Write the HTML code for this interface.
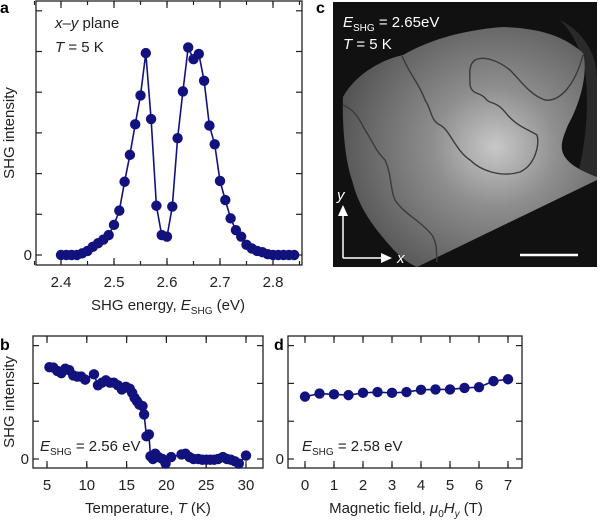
<!DOCTYPE html>
<html><head><meta charset="utf-8">
<style>
html,body{margin:0;padding:0;background:#fff;}
svg{display:block;font-family:"Liberation Sans",Arial,sans-serif;}
</style></head>
<body>
<svg id="fig" width="600" height="523" viewBox="0 0 600 523" xmlns="http://www.w3.org/2000/svg">
<defs>
<radialGradient id="blobg" cx="0.6" cy="0.5" r="0.62">
<stop offset="0" stop-color="#c8c8c8"/>
<stop offset="0.4" stop-color="#8e8e8e"/>
<stop offset="1" stop-color="#555"/>
</radialGradient>
</defs>
<g id="root"></g>
</svg>
<script>
// Panel a data
const aEnergy = [2.40,2.41,2.42,2.43,2.44,2.45,2.46,2.47,2.48,2.49,2.50,2.51,2.52,2.53,2.54,2.55,2.56,2.57,2.58,2.59,2.60,2.61,2.62,2.63,2.64,2.65,2.66,2.67,2.68,2.69,2.70,2.71,2.72,2.73,2.74,2.75,2.76,2.77,2.78,2.79,2.80,2.81,2.82,2.83,2.84];
const aIntensity = [0,0,0,0,0.04,0.1,0.2,0.29,0.38,0.49,0.74,1.09,1.8,2.46,3.21,3.92,4.96,3.34,1.21,0.49,0.45,1.19,2.87,4.02,5.1,4.81,4.94,4.28,3.18,2.72,1.82,1.35,0.9,0.61,0.45,0.25,0.16,0.1,0.07,0.02,0,0,0,0,0];
const aXTicks = [2.4,2.5,2.6,2.7,2.8];
// Panel b data
const bTemp = [5.3,5.8,6.3,6.8,7.3,7.8,8.3,8.8,9.3,9.8,10.9,11.4,11.9,12.4,12.9,13.4,13.9,14.4,14.9,15.4,15.7,16.0,16.3,16.6,17.0,17.2,17.5,17.8,18.0,18.3,18.6,19.0,19.5,19.9,20.6,21.9,22.4,22.9,23.4,24.0,24.5,25.0,25.5,26.0,26.5,27.1,27.6,28.1,28.6,29.1,30.0];
const bIntensity = [2.43,2.42,2.33,2.27,2.39,2.35,2.21,2.18,2.18,2.1,2.24,1.95,2.02,2.08,2.02,2.02,1.95,1.84,1.91,1.86,1.75,1.62,1.53,1.44,1.4,1.18,0.6,0.65,0.07,0,0.14,0.05,0,-0.12,0.05,0.12,0.14,0.05,0,0,-0.02,-0.02,-0.02,-0.02,0,0.05,0,-0.02,-0.06,-0.12,0.09];
const bXTicks = [5,10,15,20,25,30];
// Panel d data
const dField = [0,0.5,1,1.5,2,2.5,3,3.5,4,4.5,5,5.5,6,6.5,7];
const dIntensity = [1.65,1.73,1.71,1.69,1.75,1.77,1.75,1.77,1.83,1.84,1.84,1.88,1.9,2.06,2.11];
const dXTicks = [0,1,2,3,4,5,6,7];

const NS = "http://www.w3.org/2000/svg";
const root = document.getElementById('root');
const COL = "#12127f";
function mk(tag, attrs, parent){
  const e = document.createElementNS(NS, tag);
  for (const k in attrs) e.setAttribute(k, attrs[k]);
  (parent||root).appendChild(e);
  return e;
}
function txt(x,y,s,opt,parent){
  const t = mk('text',{x:x,y:y,'font-size':(opt&&opt.size)||15,'text-anchor':(opt&&opt.anchor)||'middle',fill:(opt&&opt.fill)||'#222'},parent);
  t.innerHTML = s;
  return t;
}

function panel(cfg){
  const g = mk('g',{});
  
  
  const sx = v => cfg.x0 + (v - cfg.xv0) * cfg.xs;
  const sy = v => cfg.y0 - v * cfg.ys;
  const frame = mk('rect',{x:cfg.L,y:cfg.T,width:cfg.R-cfg.L,height:cfg.B-cfg.T,fill:'none',stroke:'#222','stroke-width':1.3},g);
  
  
  for (let k=0;k<cfg.nY;k++){
    const y = sy(k);
    mk('line',{x1:cfg.L,x2:cfg.L+6,y1:y,y2:y,stroke:'#222','stroke-width':1.2},g);
    mk('line',{x1:cfg.R,x2:cfg.R-6,y1:y,y2:y,stroke:'#222','stroke-width':1.2},g);
  }
  const z = txt(cfg.L-4, sy(0)+5, '0', {anchor:'end'}, g);
  
  
  cfg.minor.forEach(v=>{
    mk('line',{x1:sx(v),x2:sx(v),y1:cfg.B,y2:cfg.B-4,stroke:'#222','stroke-width':1.2},g);
    mk('line',{x1:sx(v),x2:sx(v),y1:cfg.T,y2:cfg.T+4,stroke:'#222','stroke-width':1.2},g);
  });
  cfg.ticks.forEach(v=>{
    mk('line',{x1:sx(v),x2:sx(v),y1:cfg.B,y2:cfg.B-7,stroke:'#222','stroke-width':1.2},g);
    mk('line',{x1:sx(v),x2:sx(v),y1:cfg.T,y2:cfg.T+7,stroke:'#222','stroke-width':1.2},g);
    const t = txt(sx(v), cfg.B+22, cfg.fmt(v), {}, g);
    
    
  });
  const pts = cfg.xs_data.map((v,i)=>sx(v).toFixed(1)+','+sy(cfg.ys_data[i]).toFixed(1)).join(' ');
  const pl = mk('polyline',{points:pts,fill:'none',stroke:COL,'stroke-width':1.6},g);
  
  
  cfg.xs_data.forEach((v,i)=>{
    const c = mk('circle',{cx:sx(v),cy:sy(cfg.ys_data[i]),r:5.2,fill:COL},g);
    
    
  });
  return g;
}

const minorA=[]; for(let v=2.35; v<2.86; v+=0.05) minorA.push(+v.toFixed(2));
panel({name:'panel-a',L:36,R:302,T:1,B:265,x0:61,xv0:2.4,xs:530,y0:255,ys:40.7,nY:7,
  ticks:aXTicks,minor:minorA,fmt:v=>v.toFixed(1),xs_data:aEnergy,ys_data:aIntensity});
const minorB=[]; for(let v=5; v<=30; v+=5) minorB.push(v);
panel({name:'panel-b',L:33,R:263,T:336,B:468,x0:47,xv0:5,xs:7.96,y0:459,ys:37.8,nY:4,
  ticks:bXTicks,minor:minorB,fmt:v=>String(v),xs_data:bTemp,ys_data:bIntensity});
panel({name:'panel-d',L:288,R:522,T:336,B:468,x0:305,xv0:0,xs:29,y0:459,ys:37.8,nY:4,
  ticks:dXTicks,minor:dXTicks,fmt:v=>String(v),xs_data:dField,ys_data:dIntensity});
</script>
<script>
(function(){
const NS="http://www.w3.org/2000/svg";
const svg=document.getElementById('fig');
function add(html){ const g=document.createElementNS(NS,'g'); g.innerHTML=html; svg.appendChild(g); }
add(`
<text x="0" y="13" font-size="16" font-weight="bold" fill="#000">a</text>
<text x="0" y="350" font-size="16" font-weight="bold" fill="#000">b</text>
<text x="316" y="13" font-size="16" font-weight="bold" fill="#000">c</text>
<text x="274" y="350" font-size="16" font-weight="bold" fill="#000">d</text>
<text x="55" y="28" font-size="15" fill="#222"><tspan font-style="italic">x</tspan>–<tspan font-style="italic">y</tspan> plane</text>
<text x="55" y="52" font-size="15" fill="#222"><tspan font-style="italic">T</tspan> = 5 K</text>
<text transform="translate(14,133) rotate(-90)" text-anchor="middle" font-size="15" fill="#222">SHG intensity</text>
<text x="168" y="310" text-anchor="middle" font-size="15" fill="#222">SHG energy, <tspan font-style="italic">E</tspan><tspan font-size="10" dy="4">SHG</tspan><tspan dy="-4"> (eV)</tspan></text>
<text transform="translate(14,402) rotate(-90)" text-anchor="middle" font-size="15" fill="#222">SHG intensity</text>
<text x="40" y="451" font-size="15" fill="#222"><tspan font-style="italic">E</tspan><tspan font-size="10" dy="4">SHG</tspan><tspan dy="-4"> = 2.56 eV</tspan></text>
<text x="148" y="513" text-anchor="middle" font-size="15" fill="#222">Temperature, <tspan font-style="italic">T</tspan> (K)</text>
<text x="302" y="451" font-size="15" fill="#222"><tspan font-style="italic">E</tspan><tspan font-size="10" dy="4">SHG</tspan><tspan dy="-4"> = 2.58 eV</tspan></text>
<text x="406" y="513" text-anchor="middle" font-size="15" fill="#222">Magnetic field, <tspan font-style="italic">μ</tspan><tspan font-size="10" dy="4">0</tspan><tspan dy="-4" font-style="italic">H</tspan><tspan font-size="10" dy="4" font-style="italic">y</tspan><tspan dy="-4"> (T)</tspan></text>
<g>
<rect x="333" y="2" width="264" height="265" fill="#111"/>
<path d="M560,20 C580,30 597,50 597,80 L597,177 L575,185 C585,150 590,110 585,70 C580,45 570,30 560,20 Z" fill="#2a2a2a"/>
<path d="M343,97 C355,75 380,60 403,55 C425,42 460,30 503,27 C530,28 560,32 583,53 C588,70 582,100 568,125 C560,145 552,160 597,177 L597,180 L417,267 C405,262 395,252 385,240 C370,222 358,205 352,180 C345,160 342,125 343,97 Z" fill="url(#blobg)"/>
<path d="M402,56 C410,75 420,85 425,100 C432,110 430,120 440,125 C450,130 455,150 470,160 C480,170 500,178 520,172 C535,165 540,145 537,135 C525,128 515,125 505,112 C495,100 490,105 485,98 C480,92 472,95 470,85 C470,75 468,65 475,60 C485,55 500,62 510,70 C520,80 530,95 545,100 C560,102 575,85 583,55" fill="none" stroke="#3a3a3a" stroke-width="1.4"/>
<path d="M343,105 C355,110 360,120 365,130 C372,140 375,150 385,160 C392,175 390,190 395,200 C405,215 420,220 432,235 C438,245 436,255 437,262" fill="none" stroke="#3a3a3a" stroke-width="1.4"/>
<line x1="343" y1="258" x2="343" y2="208" stroke="#fff" stroke-width="1.5"/>
<path d="M338,216 L343,205 L348,216 Z" fill="#fff"/>
<line x1="343" y1="258" x2="388" y2="258" stroke="#fff" stroke-width="1.5"/>
<path d="M381,253 L392,258 L381,263 Z" fill="#fff"/>
<line x1="520" y1="255" x2="578" y2="255" stroke="#fff" stroke-width="2.5"/>
</g>
<text x="337" y="200" font-size="15" font-style="italic" fill="#fff">y</text>
<text x="397" y="263" font-size="15" font-style="italic" fill="#fff">x</text>
<text x="343" y="27" font-size="15" fill="#fff"><tspan font-style="italic">E</tspan><tspan font-size="10" dy="4">SHG</tspan><tspan dy="-4"> = 2.65eV</tspan></text>
<text x="343" y="49" font-size="15" fill="#fff"><tspan font-style="italic">T</tspan> = 5 K</text>
`);
})();
</script>
</body></html>
